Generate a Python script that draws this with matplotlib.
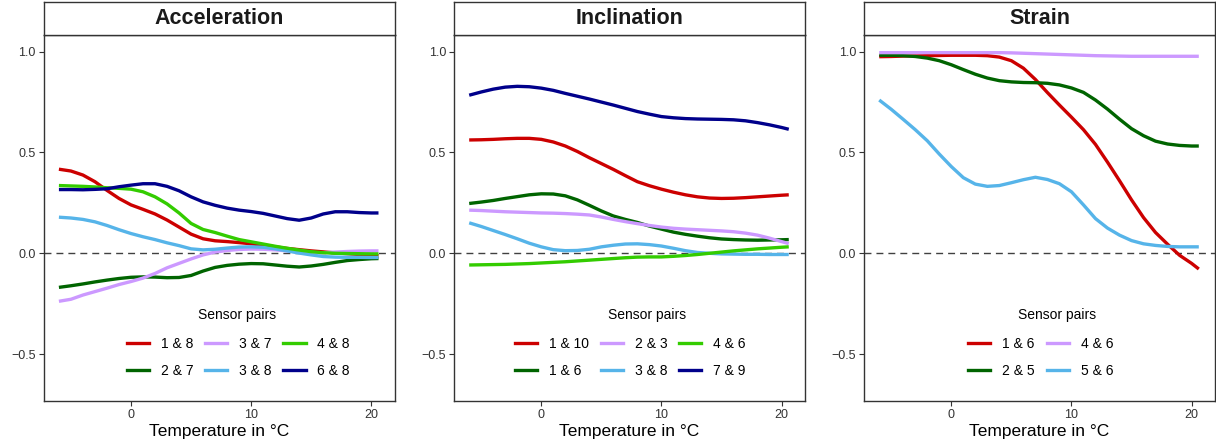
#!/usr/bin/env python3
"""
Correlation of sensor pairs against temperature, three panels
"""

import matplotlib
matplotlib.use("Agg")
import matplotlib.pyplot as plt
from matplotlib.lines import Line2D

plt.rcParams['font.family'] = ['Liberation Sans', 'DejaVu Sans']

# temperature grid (deg C) shared by all series
TEMP = [-6, -5, -4, -3, -2, -1, 0, 1, 2, 3, 4, 5, 6, 7, 8, 9, 10,
        11, 12, 13, 14, 15, 16, 17, 18, 19, 20, 20.6]

# colours by position in each panel's legend
COLOURS = ["#CC0000", "#006400", "#CC99FF", "#56B4E9", "#33CC00", "#00008B"]

# Acceleration
ACC_LABELS = ["1 & 8", "2 & 7", "3 & 7", "3 & 8", "4 & 8", "6 & 8"]
acc_18 = [0.417, 0.408, 0.388, 0.355, 0.312, 0.272, 0.24, 0.218, 0.195, 0.165,
          0.13, 0.095, 0.072, 0.062, 0.058, 0.053, 0.047, 0.04, 0.032, 0.024,
          0.018, 0.012, 0.007, 0.002, -0.002, -0.006, -0.01, -0.012]
acc_27 = [-0.169, -0.161, -0.152, -0.142, -0.133, -0.125, -0.119, -0.117,
          -0.118, -0.121, -0.12, -0.11, -0.088, -0.07, -0.06, -0.054, -0.051,
          -0.052, -0.058, -0.064, -0.068, -0.063, -0.055, -0.045, -0.036,
          -0.031, -0.027, -0.026]
acc_37 = [-0.238, -0.228, -0.207, -0.19, -0.173, -0.155, -0.14, -0.123, -0.1,
          -0.072, -0.05, -0.028, -0.008, 0.006, 0.014, 0.019, 0.021, 0.02,
          0.017, 0.012, 0.006, 0.003, 0.003, 0.006, 0.009, 0.011, 0.012, 0.012]
acc_38 = [0.179, 0.175, 0.168, 0.156, 0.138, 0.117, 0.098, 0.082, 0.068, 0.052,
          0.038, 0.022, 0.017, 0.02, 0.026, 0.031, 0.032, 0.03, 0.022, 0.012,
          0.001, -0.008, -0.016, -0.019, -0.02, -0.02, -0.021, -0.021]
acc_48 = [0.336, 0.334, 0.332, 0.329, 0.325, 0.322, 0.318, 0.305, 0.28, 0.245,
          0.2, 0.148, 0.118, 0.103, 0.085, 0.068, 0.057, 0.046, 0.035, 0.025,
          0.016, 0.008, 0.003, 0.0, -0.001, -0.002, -0.003, -0.003]
acc_68 = [0.316, 0.316, 0.315, 0.317, 0.32, 0.33, 0.338, 0.345, 0.345, 0.332,
          0.31, 0.28, 0.255, 0.238, 0.224, 0.214, 0.207, 0.198, 0.185, 0.172,
          0.164, 0.175, 0.195, 0.206, 0.206, 0.202, 0.2, 0.2]

# Inclination
INC_LABELS = ["1 & 10", "1 & 6", "2 & 3", "3 & 8", "4 & 6", "7 & 9"]
inc_110 = [0.562, 0.563, 0.565, 0.568, 0.57, 0.57, 0.565, 0.552, 0.532, 0.505,
           0.474, 0.445, 0.416, 0.385, 0.355, 0.335, 0.318, 0.303, 0.29, 0.28,
           0.274, 0.272, 0.273, 0.276, 0.28, 0.284, 0.288, 0.29]
inc_16 = [0.247, 0.254, 0.262, 0.272, 0.281, 0.29, 0.295, 0.294, 0.285, 0.265,
          0.238, 0.21, 0.185, 0.168, 0.153, 0.135, 0.12, 0.105, 0.094, 0.085,
          0.077, 0.071, 0.068, 0.066, 0.065, 0.066, 0.067, 0.068]
inc_23 = [0.214, 0.212, 0.209, 0.206, 0.204, 0.202, 0.2, 0.199, 0.197, 0.194,
          0.19, 0.18, 0.168, 0.157, 0.147, 0.138, 0.13, 0.124, 0.12, 0.117,
          0.114, 0.111, 0.107, 0.1, 0.09, 0.075, 0.058, 0.048]
inc_38 = [0.151, 0.133, 0.113, 0.093, 0.072, 0.05, 0.032, 0.018, 0.013, 0.014,
          0.02, 0.032, 0.04, 0.046, 0.047, 0.043, 0.036, 0.025, 0.013, 0.004,
          0.0, -0.003, -0.004, -0.005, -0.005, -0.006, -0.006, -0.006]
inc_46 = [-0.058, -0.057, -0.056, -0.055, -0.053, -0.051, -0.048, -0.045,
          -0.042, -0.038, -0.034, -0.03, -0.026, -0.022, -0.019, -0.018,
          -0.018, -0.015, -0.011, -0.006, 0.0, 0.006, 0.012, 0.017, 0.022,
          0.026, 0.03, 0.032]
inc_79 = [0.784, 0.8, 0.814, 0.824, 0.828, 0.826, 0.819, 0.808, 0.793, 0.779,
          0.765, 0.75, 0.735, 0.719, 0.703, 0.69, 0.678, 0.672, 0.668, 0.666,
          0.665, 0.664, 0.662, 0.657, 0.648, 0.637, 0.624, 0.615]

# Strain
STR_LABELS = ["1 & 6", "2 & 5", "4 & 6", "5 & 6"]
str_16 = [0.975, 0.976, 0.978, 0.979, 0.98, 0.981, 0.982, 0.982, 0.982, 0.98,
          0.973, 0.955, 0.918, 0.862, 0.797, 0.735, 0.675, 0.613, 0.54, 0.452,
          0.36, 0.265, 0.177, 0.103, 0.045, -0.01, -0.05, -0.078]
str_25 = [0.982, 0.982, 0.98, 0.976, 0.968, 0.955, 0.935, 0.911, 0.888, 0.869,
          0.856, 0.85, 0.847, 0.846, 0.843, 0.835, 0.82, 0.798, 0.76, 0.715,
          0.665, 0.618, 0.583, 0.556, 0.542, 0.535, 0.532, 0.532]
str_46 = [0.995, 0.995, 0.995, 0.995, 0.995, 0.995, 0.995, 0.995, 0.995, 0.995,
          0.995, 0.994, 0.992, 0.99, 0.988, 0.986, 0.984, 0.982, 0.98, 0.979,
          0.978, 0.977, 0.977, 0.977, 0.977, 0.977, 0.977, 0.977]
str_56 = [0.76, 0.714, 0.664, 0.613, 0.558, 0.492, 0.43, 0.375, 0.343, 0.332,
          0.336, 0.35, 0.365, 0.377, 0.366, 0.345, 0.305, 0.24, 0.172, 0.125,
          0.09, 0.063, 0.047, 0.039, 0.034, 0.032, 0.032, 0.032]

YTICKS = [-0.5, 0.0, 0.5, 1.0]
YTICK_LABELS = ["\u22120.5", "0.0", "0.5", "1.0"]
XTICKS = [0, 10, 20]

PANELS = [
    ("Acceleration", ACC_LABELS, [acc_18, acc_27, acc_37, acc_38, acc_48, acc_68],
     [0, 1, 2, 3, 4, 5], 0.0362, 0.554),
    ("Inclination", INC_LABELS, [inc_110, inc_16, inc_23, inc_38, inc_46, inc_79],
     [0, 1, 2, 3, 4, 5], 0.3736, 0.502),
    ("Strain", STR_LABELS, [str_16, str_25, str_46, str_56],
     [0, 1, 2, 3], 0.7108, 0.503),
]


def draw_panel(fig, title, labels, series, cidx, left, leg_x):
    """
    one facet: strip on top, lines, dashed zero line, inner legend
    """
    width = 0.2883
    ax = fig.add_axes([left, 0.1009, width, 0.8206])
    strip = fig.add_axes([left, 0.9215, width, 0.0747])

    handles = []
    for vals, lab, ci in zip(series, labels, cidx):
        ax.plot(TEMP, vals, color=COLOURS[ci], lw=2.4, solid_capstyle='butt',
                solid_joinstyle='round')
        handles.append(Line2D([], [], color=COLOURS[ci], lw=2.4, label=lab))
    ax.axhline(0, color="#404040", lw=1.0, dashes=(5, 3.6), zorder=0)

    ax.set_xlim(-7.24, 21.94)
    ax.set_ylim(-0.7325, 1.0825)
    ax.set_yticks(YTICKS)
    ax.set_yticklabels(YTICK_LABELS)
    ax.set_xticks(XTICKS)
    ax.tick_params(direction='out', length=3.5, width=0.8, color="#333333",
                   labelsize=9, labelcolor="#333333", pad=2.5)
    for sp in ax.spines.values():
        sp.set_color("#333333")
        sp.set_linewidth(1.0)
    ax.set_xlabel("Temperature in \u00b0C", fontsize=12.5, labelpad=2)

    ax.text(0.55, 0.235, "Sensor pairs", transform=ax.transAxes,
            ha='center', va='center', fontsize=10)
    ax.legend(handles=handles, ncol=3 if len(handles) > 4 else 2,
              loc='center', bbox_to_anchor=(leg_x, 0.119), frameon=False,
              fontsize=10, handlelength=1.6, handletextpad=0.85,
              columnspacing=0.85, labelspacing=0.95, borderpad=0)

    strip.set_xticks([])
    strip.set_yticks([])
    for sp in strip.spines.values():
        sp.set_color("#333333")
        sp.set_linewidth(1.0)
    strip.text(0.5, 0.5, title, transform=strip.transAxes, ha='center',
               va='center', fontsize=15.5, fontweight='bold', color="#1A1A1A")


def main():
    """
    build the figure
    """
    fig = plt.figure(figsize=(12.16, 4.46), dpi=100)
    for title, labels, series, cidx, left, leg_x in PANELS:
        draw_panel(fig, title, labels, series, cidx, left, leg_x)
    fig.savefig("out.png", dpi=100)


if __name__ == "__main__":
    main()
